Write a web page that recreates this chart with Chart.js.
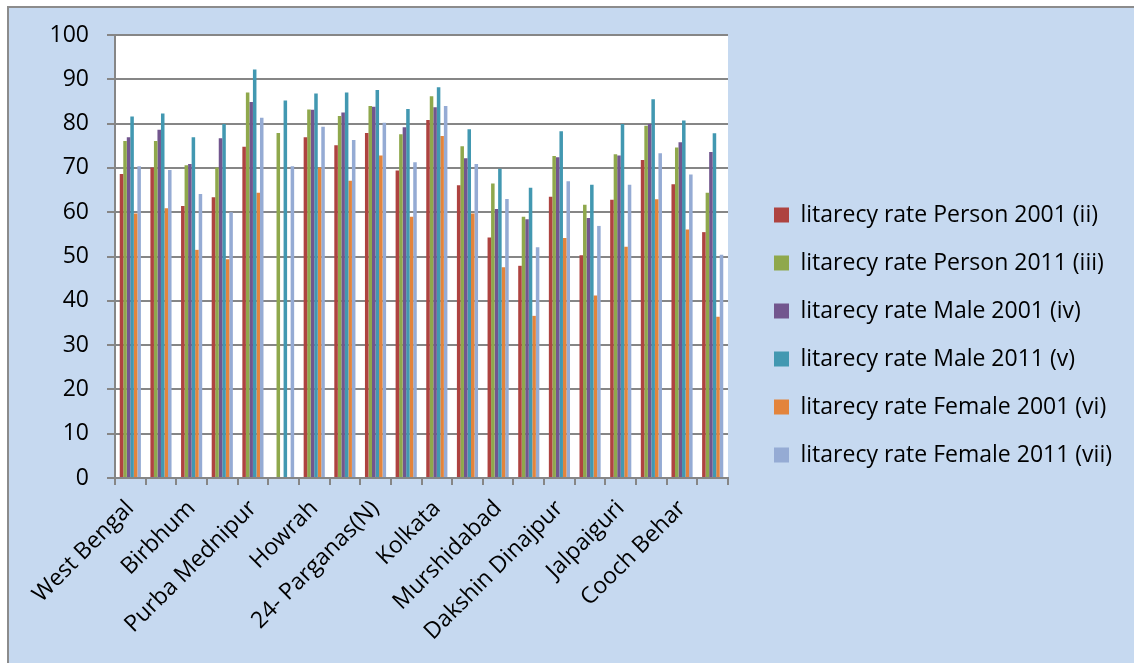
<!DOCTYPE html>
<html>
<head>
<meta charset="utf-8">
<script src="https://cdn.jsdelivr.net/npm/chart.js@4/dist/chart.umd.min.js"></script>
<style>
  body { margin: 0; background: #fff; }
  .frame {
    position: absolute; left: 7px; top: 6px; width: 1140px; height: 670px;
    background: #c6d9f0; border-left: 2px solid #8c8c8c; border-top: 2px solid #8c8c8c;
  }
  #chart { position: absolute; left: 0; top: 0; }
</style>
</head>
<body>
<div class="frame"></div>
<canvas id="chart" width="1134" height="663"></canvas>
<script>
// districts (odd ones are not labelled on the axis in the original)
const districts = [
  "West Bengal", "Barddhaman", "Birbhum", "Bankura", "Purba Mednipur",
  "Paschim Mednipur", "Howrah", "Hugli", "24- Parganas(N)", "24- Parganas(S)",
  "Kolkata", "Nadia", "Murshidabad", "Uttar Dinajpur", "Dakshin Dinajpur",
  "Maldah", "Jalpaiguri", "Darjiling", "Cooch Behar", "Puruliya"
];

const person2001 = [68.6, 70.1, 61.4, 63.4, 74.8, null, 76.9, 75.1, 77.9, 69.4, 80.8, 66.1, 54.3, 47.9, 63.5, 50.3, 62.8, 71.8, 66.3, 55.5];
const person2011 = [76.1, 76.1, 70.6, 70.1, 87.0, 77.9, 83.2, 81.7, 84.0, 77.6, 86.2, 74.9, 66.5, 59.0, 72.7, 61.7, 73.1, 79.5, 74.6, 64.4];
const male2001 = [76.9, 78.6, 70.9, 76.7, 84.9, null, 83.1, 82.5, 83.8, 79.2, 83.7, 72.2, 60.7, 58.4, 72.4, 58.7, 72.8, 79.9, 75.8, 73.6];
const male2011 = [81.6, 82.3, 76.9, 79.9, 92.2, 85.2, 86.8, 87.0, 87.6, 83.3, 88.2, 78.7, 69.8, 65.5, 78.3, 66.2, 79.9, 85.5, 80.7, 77.8];
const female2001 = [59.7, 60.9, 51.5, 49.4, 64.4, null, 70.1, 67.1, 72.8, 59.0, 77.2, 59.7, 47.6, 36.6, 54.2, 41.2, 52.2, 62.9, 56.1, 36.4];
const female2011 = [70.4, 69.5, 64.1, 60.0, 81.3, 70.4, 79.3, 76.3, 80.2, 71.3, 84.0, 70.9, 63.0, 52.1, 67.0, 56.9, 66.2, 73.3, 68.5, 50.4];

const yTicks = [0, 10, 20, 30, 40, 50, 60, 70, 80, 90, 100];

const seriesNames = [
  "litarecy rate Person 2001 (ii)",
  "litarecy rate Person 2011 (iii)",
  "litarecy rate Male 2001 (iv)",
  "litarecy rate Male 2011 (v)",
  "litarecy rate Female 2001 (vi)",
  "litarecy rate Female 2011 (vii)"
];
const seriesColors = ["#ae4340", "#8fa84c", "#72568e", "#4298b1", "#e3843c", "#95abd4"];
const seriesData = [person2001, person2011, male2001, male2011, female2001, female2011];

const FONT = "'Open Sans', sans-serif";
const gridGray = "#868686";

const whitePlot = {
  id: "whitePlot",
  beforeDraw(chart) {
    const { ctx, chartArea: a } = chart;
    ctx.save();
    ctx.fillStyle = "#ffffff";
    ctx.fillRect(a.left, a.top, a.right - a.left, a.bottom - a.top);
    ctx.restore();
  }
};

// legend sits a bit higher than the canvas centre in the original
const liftLegend = {
  id: "liftLegend",
  afterLayout(chart) {
    chart.legend.bottom -= 28;
    chart.legend.height -= 28;
  }
};

new Chart(document.getElementById("chart"), {
  type: "bar",
  data: {
    labels: districts,
    datasets: seriesData.map((d, i) => ({
      label: seriesNames[i],
      data: d,
      backgroundColor: seriesColors[i],
      borderWidth: 0,
      barPercentage: 1.0,
      categoryPercentage: 0.69
    }))
  },
  options: {
    responsive: false,
    animation: false,
    layout: { padding: { left: 0, top: 35, right: 12, bottom: 0 } },
    plugins: {
      tooltip: { enabled: false },
      legend: {
        position: "right",
        maxWidth: 420,
        labels: {
          font: { family: FONT, size: 23 },
          color: "#000",
          boxWidth: 15,
          boxHeight: 15,
          padding: 25
        }
      }
    },
    scales: {
      x: {
        afterFit: (s) => { s.height = 185; },
        grid: { drawOnChartArea: false, drawTicks: true, tickLength: 7, color: gridGray, lineWidth: 2 },
        border: { color: gridGray, width: 2 },
        ticks: {
          autoSkip: false,
          minRotation: 45,
          maxRotation: 45,
          padding: 10,
          color: "#000",
          font: { family: FONT, size: 23 },
          callback: (v, i) => (i % 2 === 0 ? districts[i] : "")
        }
      },
      y: {
        min: 0,
        max: 100,
        afterFit: (s) => { s.width = 115; },
        afterBuildTicks: (s) => { s.ticks = yTicks.map((v) => ({ value: v })); },
        grid: { color: gridGray, lineWidth: 2, tickLength: 8 },
        border: { color: gridGray, width: 2 },
        ticks: {
          padding: 18,
          color: "#000",
          font: { family: FONT, size: 23 }
        }
      },
      gap: {
        position: "right",
        display: true,
        grid: { display: false },
        border: { display: false },
        ticks: { display: false },
        afterFit: (s) => { s.width = 21; }
      }
    }
  },
  plugins: [whitePlot, liftLegend]
});
</script>
</body>
</html>
